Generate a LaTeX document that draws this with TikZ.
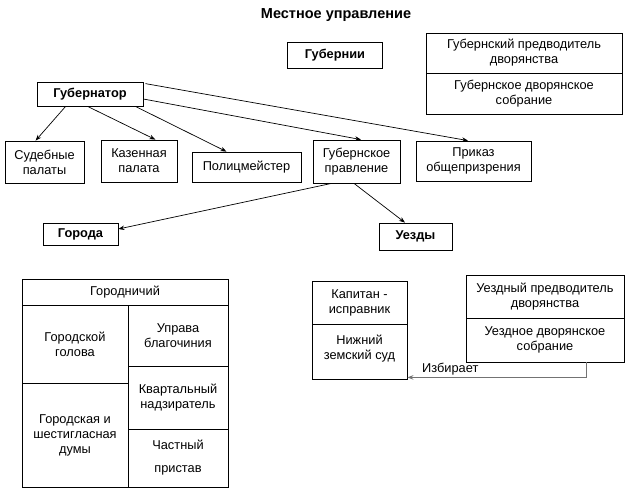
\documentclass[tikz,border=0pt]{standalone}
\usepackage{fontspec}
\setmainfont{Liberation Sans}
\usetikzlibrary{arrows.meta}
\begin{document}
\begin{tikzpicture}[x=1pt,y=-1pt,
  box/.style={draw=black,line width=0.8pt,align=center,inner sep=1pt,font=\fontsize{12.8}{15}\selectfont},
  bbox/.style={box,font=\fontsize{12.8}{15}\selectfont\bfseries},
  arr/.style={line width=0.7pt,-{Stealth[length=6pt,width=4.5pt]}}]
\useasboundingbox (0,0) rectangle (630,504);
\node[font=\fontsize{14.5}{16}\selectfont\bfseries] (title) at (336,15) {Местное управление};
\node[bbox,minimum width=95pt,minimum height=26pt] (gub) at (335,55) {Губернии};
\node[box,minimum width=196pt,minimum height=40pt] (gpd) at (524,53) {Губернский предводитель\\дворянства};
\node[box,minimum width=196pt,minimum height=41pt] (gds) at (524,93.5) {Губернское дворянское\\собрание};
\node[bbox,minimum width=106pt,minimum height=24pt] (gov) at (90,94) {Губернатор};
\node[box,minimum width=79pt,minimum height=42pt] (sud) at (44.5,162) {Судебные\\палаты};
\node[box,minimum width=76pt,minimum height=42pt] (kaz) at (139,161) {Казенная\\палата};
\node[box,minimum width=109pt,minimum height=30pt] (pol) at (246.5,167) {Полицмейстер};
\node[box,minimum width=87pt,minimum height=43pt] (gp) at (356.5,161.5) {Губернское\\правление};
\node[box,minimum width=115pt,minimum height=40pt] (prik) at (473.5,161) {Приказ\\общепризрения};
\node[bbox,minimum width=75pt,minimum height=22pt] (gor) at (80.5,234) {Города};
\node[bbox,minimum width=73pt,minimum height=27pt] (uez) at (415.5,236.5) {Уезды};
\draw[arr] ([xshift=29pt]gov.south west) -- ([xshift=31pt]sud.north west);
\draw[arr] ([xshift=51pt]gov.south west) -- ([xshift=-22pt]kaz.north east);
\draw[arr] ([xshift=-8pt]gov.south east) -- ([xshift=-20pt]pol.north);
\draw[arr] ([yshift=-5pt]gov.east) -- ([xshift=4.5pt]gp.north);
\draw[arr] ([yshift=-2pt,xshift=2pt]gov.north east) -- ([xshift=-5.5pt]prik.north);
\draw[arr] ([xshift=-25pt]gp.south) -- ([yshift=5pt]gor.east);
\draw[arr] ([xshift=-2.5pt]gp.south) -- ([xshift=-10.5pt]uez.north);
% town table
\node[box,minimum width=206pt,minimum height=26pt] (gorod) at (125,292) {Городничий};
\node[box,minimum width=106pt,minimum height=78pt] (golova) at (75,344) {Городской\\голова};
\node[box,minimum width=106pt,minimum height=104pt] (duma) at (75,435) {Городская и\\шестигласная\\думы};
\node[box,minimum width=100pt,minimum height=61pt] (uprava) at (178,335.5) {Управа\\благочиния};
\node[box,minimum width=100pt,minimum height=63pt] (kvart) at (178,397.5) {Квартальный\\надзиратель};
\node[box,minimum width=100pt,minimum height=58pt] (chast) at (178,458) {Частный\\[8pt]пристав};
% uezd
\node[box,minimum width=95pt,minimum height=43pt] (kap) at (359.5,302.5) {Капитан -\\исправник};
\node[box,minimum width=95pt,minimum height=55pt,text depth=8pt] (nizh) at (359.5,351.5) {Нижний\\земский суд};
\node[box,minimum width=158pt,minimum height=43pt] (upd) at (545,296.5) {Уездный предводитель\\дворянства};
\node[box,minimum width=158pt,minimum height=44pt] (uds) at (545,340) {Уездное дворянское\\собрание};
\draw[line width=1pt,draw=black!55,-{Stealth[length=6pt,width=4.5pt]}] ([xshift=41pt]uds.south) |- ([yshift=2pt]nizh.south east) node[pos=0.88,above,inner sep=2pt,text=black,font=\fontsize{12.8}{15}\selectfont] (izb) {Избирает};
\end{tikzpicture}
\end{document}
